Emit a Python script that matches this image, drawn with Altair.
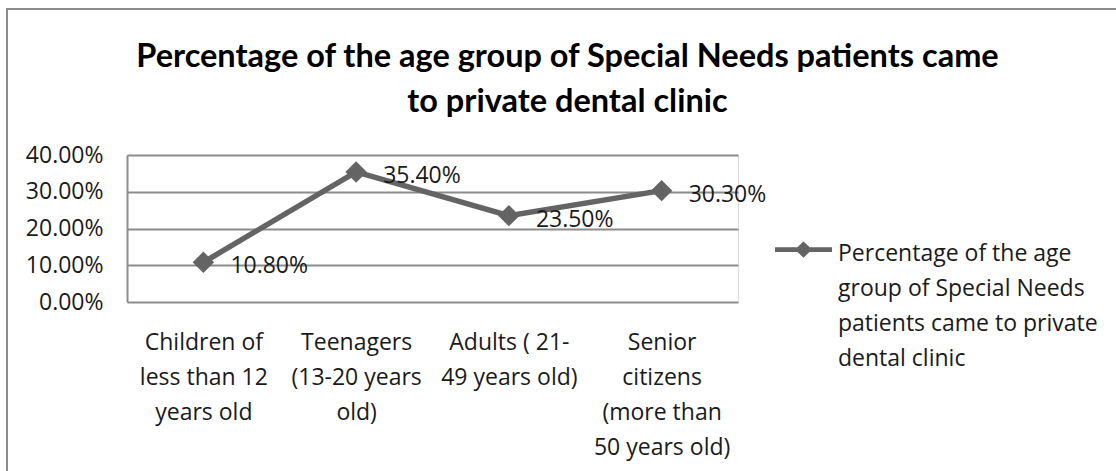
import altair as alt
import pandas as pd

# ---- data ----
categories = [
    "Children of\nless than 12\nyears old",
    "Teenagers\n(13-20 years\nold)",
    "Adults ( 21-\n49 years old)",
    "Senior\ncitizens\n(more than\n50 years old)",
]
values = [0.108, 0.354, 0.235, 0.303]
series_name = "Percentage of the age group of Special Needs patients came to private dental clinic"
legend_lines = ["Percentage of the age", "group of Special Needs", "patients came to private", "dental clinic"]
title_lines = ["Percentage of the age group of Special Needs patients came", "to private dental clinic"]
y_ticks = [0.0, 0.1, 0.2, 0.3, 0.4]

df = pd.DataFrame({"category": categories, "value": values, "series": [series_name] * len(values)})

LINE = "#646464"
GRID = "#8c8c8c"
BODY_FONT = "Open Sans"

x_enc = alt.X("category:N", sort=None, title=None,
              scale=alt.Scale(paddingInner=0, paddingOuter=0),
              axis=alt.Axis(labelAngle=0, labelExpr="split(datum.label, '\\n')",
                            labelFont=BODY_FONT, labelFontSize=23, labelLineHeight=35,
                            labelColor="#1a1a1a", labelPadding=29, labelBaseline="top",
                            ticks=False, domain=False, grid=False, labelLimit=300))
y_enc = alt.Y("value:Q", title=None,
              scale=alt.Scale(domain=[0, 0.4], nice=False, zero=True),
              axis=alt.Axis(values=y_ticks, format=".2%", labelFont=BODY_FONT, labelFontSize=23,
                            labelColor="#1a1a1a", labelPadding=24, ticks=False,
                            domain=True, domainColor=GRID, domainWidth=2,
                            grid=True, gridColor=GRID, gridWidth=2))

base = alt.Chart(df)

line = base.mark_line(color=LINE, strokeWidth=5.5).encode(x=x_enc, y=y_enc)

symbol_path = ("M-1,-0.855L1,-0.855L1,-0.685L-1,-0.685Z "
               "M0,-1.055L0.3,-0.77L0,-0.485L-0.3,-0.77Z")

points = base.mark_point(filled=True, shape="diamond", size=460, opacity=1).encode(
    x=x_enc, y=y_enc,
    color=alt.Color("series:N",
                    scale=alt.Scale(range=[LINE]),
                    legend=alt.Legend(orient="none", legendX=648, legendY=88,
                                      title=legend_lines, titleOrient="right",
                                      titleFont=BODY_FONT, titleFontSize=23,
                                      titleFontWeight="normal", titleColor="#1a1a1a",
                                      titleLineHeight=35, titleLimit=400, titlePadding=6,
                                      titleBaseline="top", titleAnchor="start",
                                      symbolType=symbol_path, symbolSize=3249,
                                      symbolStrokeWidth=0, symbolOpacity=1,
                                      labelExpr="''", labelOffset=0, labelPadding=0)),
)

labels = base.mark_text(align="left", baseline="middle", dx=27, dy=4,
                        font=BODY_FONT, fontSize=23, color="#1a1a1a").encode(
    x=x_enc, y=y_enc, text=alt.Text("value:Q", format=".2%"))

border = alt.Chart(pd.DataFrame({"b": [0]})).mark_rect(
    fill=None, stroke=GRID, strokeWidth=2).encode(
    x=alt.value(-120), x2=alt.value(1100), y=alt.value(-146), y2=alt.value(340))

chart = alt.layer(border, line, points, labels).properties(
    width=611, height=147,
    title=alt.TitleParams(text=title_lines, font="Lato", fontSize=32.5, fontWeight="bold",
                          lineHeight=45, anchor="middle", dx=135, dy=134, offset=24,
                          color="#000000"),
    autosize=alt.AutoSizeParams(type="none"),
    padding={"left": 127, "top": 155, "right": 378, "bottom": 169},
).configure_view(stroke=None).configure(background="white")

chart.save("out.html", embed_options={"renderer": "svg", "actions": False})
